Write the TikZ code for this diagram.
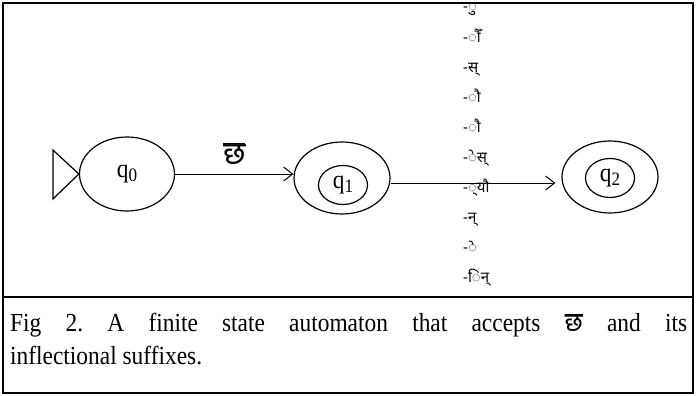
\documentclass[tikz,border=0pt]{standalone}
\usepackage{fontspec}
\setmainfont[FakeStretch=0.9]{Liberation Serif}
\newfontfamily\deva[Script=Devanagari]{Noto Sans}
\usetikzlibrary{arrows.meta,positioning,shapes.geometric}

\newcommand{\qname}[1]{q\raisebox{-0.35ex}{\fontsize{19}{19}\selectfont #1}}
\newcommand{\chha}{$\overline{\mbox{\deva छ}}$}

\begin{document}
\frenchspacing
\begin{tikzpicture}[
    x=1pt, y=-1pt,
    font=\fontsize{26}{28}\selectfont,
    state/.style={draw, ellipse, line width=1.2pt, minimum width=96pt, minimum height=72pt, inner sep=0pt},
    innerstate/.style={draw, ellipse, line width=1.2pt, minimum width=49pt, minimum height=39pt, inner sep=0pt},
    arrow/.style={-{Straight Barb[length=9pt, width=14pt]}, line width=1pt},
    suffix/.style={font=\deva\fontsize{15}{15}\selectfont, anchor=base west, inner sep=0pt},
    frame/.style={line width=2pt}
]
\useasboundingbox (0,0) rectangle (696,396);

% states
\node[state, minimum width=95pt, minimum height=74pt] (q0) at (127,174) {\qname{0}};
\draw[line width=1.2pt, line join=miter] (q0.west) -- ++(-26,-24) -- ++(0,49) -- cycle;
\node[state] (q1) at (342,178) {};
\node[innerstate] (q1in) at (343,185) {\qname{1}};
\node[state] (q2) at (610,177) {};
\node[innerstate] (q2in) at (610,178) {\qname{2}};

% transitions
\draw[arrow] (q0.east) -- (q0.east -| q1.west)
    node[midway, above=6pt, font=\fontsize{32}{32}\selectfont] (lbl) {\chha};
\draw[arrow, shorten >=6pt] ([yshift=-5pt]q1.east) -- ([yshift=-5pt]q1.east -| q2.west);

% suffixes
\foreach \s [count=\i] in {-◌ु, -◌ौँ, -स्, -◌ौ, -◌ौ, -◌ेस्, -◌्यौ, -न्, -◌े, -◌िन्}
    \node[suffix] (s\i) at (463, {12+30.1*(\i-1)}) {\s};

% frame and caption
\draw[frame] (3,3) rectangle (693,393);
\draw[frame] (3,297) -- (693,297);
\node[anchor=north west, text width=677pt, align=justify, inner sep=0pt,
      font=\fontsize{26}{33}\selectfont] (cap) at (10,313)
    {Fig 2. A finite state automaton that accepts \chha{} and its\linebreak
     inflectional suffixes.};
\end{tikzpicture}
\end{document}
